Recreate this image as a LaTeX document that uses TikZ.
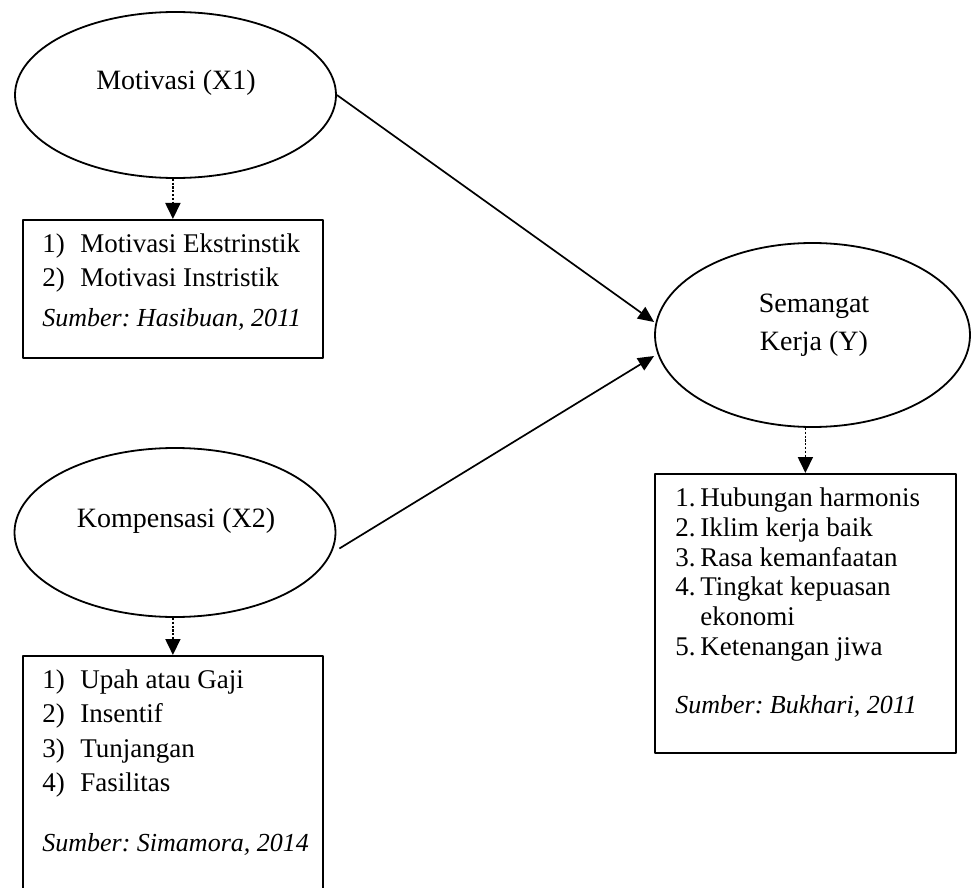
\documentclass[tikz,border=0pt]{standalone}
\usepackage{fontspec}
\setmainfont{Liberation Serif}
\frenchspacing
\usetikzlibrary{shapes.geometric,arrows.meta}

\newcommand{\srcnote}[1]{\multicolumn{2}{@{}l@{}}{\fontsize{13}{15}\selectfont\itshape #1}}

\begin{document}
\begin{tikzpicture}[x=0.5pt,y=-0.5pt,line join=round,
  latent/.style={draw,ellipse,line width=0.9pt,inner sep=0pt},
  indbox/.style={draw,rectangle,line width=0.9pt,inner sep=0pt,anchor=north west},
  causal/.style={-{Triangle[length=8pt,width=7pt]},line width=0.85pt},
  measure/.style={-{Triangle[length=8pt,width=7.5pt]},dash pattern=on 1.1pt off 0.8pt,line width=0.9pt},
  txt/.style={inner sep=0pt,font=\fontsize{13.5}{17}\selectfont},
  lbl/.style={inner sep=0pt,anchor=base,font=\fontsize{14}{17}\selectfont}]

  % page frame
  \useasboundingbox (0,0) rectangle (971,888);

  % latent variables
  \node[latent, minimum width=160.5pt, minimum height=83pt] (X1) at (175.5,95) {};
  \node[latent, minimum width=160.5pt, minimum height=84.5pt] (X2) at (175,532.5) {};
  \node[latent, minimum width=157.5pt, minimum height=92pt] (Y) at (812.5,335) {};

  \node[lbl] (X1txt) at (176,90) {Motivasi (X1)};
  \node[lbl] (X2txt) at (176,527) {Kompensasi (X2)};
  \node[lbl] (Ytxt) at (814,313) {\begin{tabular}[t]{@{}c@{}}Semangat\\[2pt] Kerja (Y)\end{tabular}};

  % indicator boxes
  \node[indbox, minimum width=150pt, minimum height=69pt] (B1) at (22,219) {};
  \node[indbox, minimum width=150pt, minimum height=125pt] (B2) at (22,655) {};
  \node[indbox, minimum width=150.5pt, minimum height=139.5pt] (B3) at (654,473) {};

  \node[txt, anchor=base west] (B1txt) at (42,253) {\begin{tabular}[t]{@{}p{19pt}@{}l@{}}
    1) & Motivasi Ekstrinstik\\
    2) & Motivasi Instristik\\[3pt]
    \srcnote{Sumber: Hasibuan, 2011}
  \end{tabular}};

  \node[txt, anchor=base west, font=\fontsize{13.5}{17.3}\selectfont] (B2txt) at (42,688) {\begin{tabular}[t]{@{}p{19pt}@{}l@{}}
    1) & Upah atau Gaji\\
    2) & Insentif\\
    3) & Tunjangan\\
    4) & Fasilitas\\[12.7pt]
    \srcnote{Sumber: Simamora, 2014}
  \end{tabular}};

  \node[txt, anchor=base west, font=\fontsize{13.5}{15}\selectfont] (B3txt) at (675,506) {\begin{tabular}[t]{@{}p{12.5pt}@{}l@{}}
    1. & Hubungan harmonis\\
    2. & Iklim kerja baik\\
    3. & Rasa kemanfaatan\\
    4. & Tingkat kepuasan\\
       & ekonomi\\
    5. & Ketenangan jiwa\\[14pt]
    \srcnote{Sumber: Bukhari, 2011}
  \end{tabular}};

  % paths between the variables
  \coordinate (X2out) at ([shift={(1.5pt,-8pt)}]X2.east);
  \draw[causal] (X1.east) -- ([yshift=6.5pt]Y.west);
  \draw[causal] (X2out) -- ([yshift=-10.5pt]Y.west);

  % indicators
  \draw[measure] (X1.south -| B1.north) -- (B1.north);
  \draw[measure] (X2.south -| B2.north) -- (B2.north);
  \draw[measure] (Y.south -| B3.north) -- (B3.north);

\end{tikzpicture}
\end{document}
